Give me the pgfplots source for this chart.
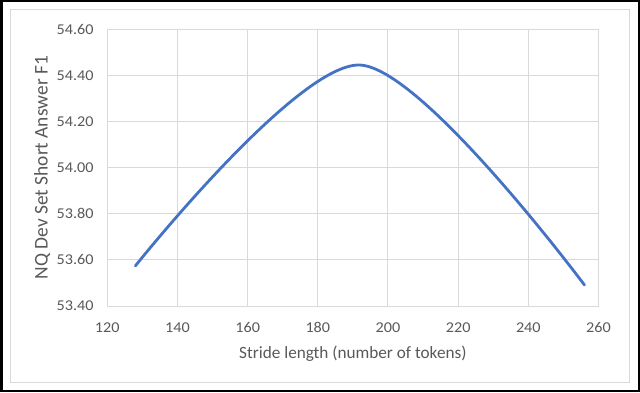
\documentclass[border=0pt]{standalone}
\usepackage{fontspec}
\setmainfont{Carlito}
\newfontfamily\wide[FakeStretch=1.08]{Carlito}
\newfontfamily\plain{Carlito}
\usepackage{pgfplots}
\pgfplotsset{compat=1.18}
\definecolor{txtgray}{HTML}{595959}
\definecolor{gridgray}{HTML}{D9D9D9}
\definecolor{xlblue}{HTML}{4472C4}
\begin{document}
\begin{tikzpicture}[x=1bp,y=1bp]
\fill[white] (0,0) rectangle (640,392);
\draw[gridgray, line width=1bp] (10,10) rectangle (629,382);
\draw[black, line width=2.5bp] (1.25,1.25) rectangle (638.75,390.75);
\begin{axis}[
  at={(107.3bp,86bp)}, anchor=south west,
  scale only axis, width=491.2bp, height=276.7bp,
  xmin=120, xmax=260, ymin=53.4, ymax=54.6,
  xtick={120,140,...,260},
  ytick={53.4,53.6,...,54.61},
  grid=major,
  major grid style={gridgray, line width=1bp},
  axis line style={gridgray, line width=1bp},
  major tick length=0pt,
  tick style={draw=none},
  /pgf/number format/assume math mode=true,
  yticklabel={\pgfmathprintnumber[fixed,fixed zerofill,precision=2]{\tick}},
  xticklabel style={font=\wide\fontsize{15bp}{17bp}\selectfont, text=txtgray, inner sep=0pt, anchor=base, yshift=-26.3bp},
  yticklabel style={font=\wide\fontsize{15bp}{17bp}\selectfont, text=txtgray, inner sep=0pt, anchor=east, xshift=-13.5bp},
  xlabel={Stride length (number of tokens)},
  ylabel={NQ Dev Set Short Answer F1},
  every axis x label/.style={at={(axis description cs:0.5,-0.189)}, anchor=base, font=\plain\fontsize{17.2bp}{20bp}\selectfont, text=txtgray},
  every axis y label/.style={at={(axis description cs:-0.1213,0.5)}, rotate=90, anchor=base, font=\plain\fontsize{19.4bp}{22bp}\selectfont, text=txtgray},
]
\addplot[xlblue, line width=2.8bp, smooth, tension=0.5, line cap=round] coordinates {
  (128,53.574) (192,54.445) (256,53.491)
};
\end{axis}
\end{tikzpicture}
\end{document}
